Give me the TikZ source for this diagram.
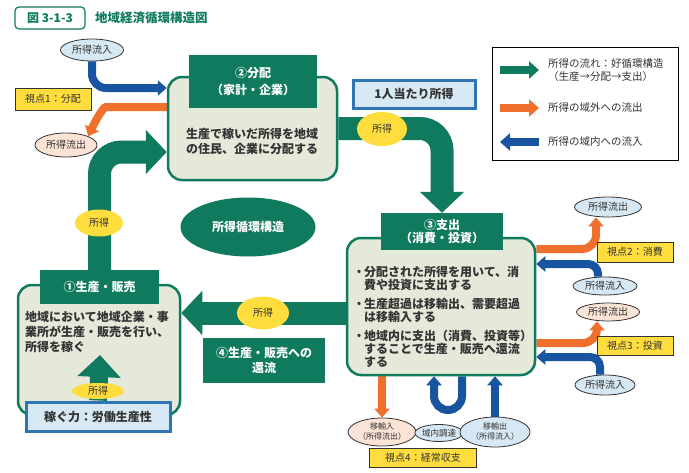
\documentclass[tikz,border=0pt]{standalone}
\usepackage{fontspec}
\setmainfont{Noto Sans CJK JP}
\usetikzlibrary{arrows.meta,shapes.geometric,backgrounds}
\definecolor{grn}{RGB}{16,122,94}
\definecolor{boxfill}{RGB}{228,233,217}
\definecolor{org}{RGB}{238,112,44}
\definecolor{blu}{RGB}{24,84,160}
\definecolor{ylw}{RGB}{255,221,62}
\definecolor{ltblue}{RGB}{214,232,243}
\definecolor{peach}{RGB}{251,227,214}
\definecolor{kpblue}{RGB}{46,117,182}
\definecolor{txt}{RGB}{51,51,51}
\newcommand\bul{\makebox[10pt][c]{・}}

\begin{document}
\begin{tikzpicture}
  [x=1pt,y=-1pt,
   every node/.style={inner sep=0pt,text=txt,font=\fontsize{12}{15}\selectfont},
   mainbox/.style={draw=grn,line width=2.5pt,fill=boxfill,rounded corners=14pt},
   hdr/.style={fill=grn,text=white,align=center},
   inc/.style={ellipse,fill=ylw,font=\fontsize{10}{12}\selectfont},
   bubin/.style={ellipse,draw=txt,line width=0.8pt,fill=ltblue,font=\fontsize{10}{12}\selectfont},
   bubout/.style={bubin,fill=peach},
   view/.style={draw=txt,line width=0.8pt,fill=ylw,font=\fontsize{10}{12}\selectfont},
   kpbox/.style={draw=kpblue,line width=3pt,fill=ltblue,font=\bfseries\fontsize{12}{15}\selectfont},
   flow/.style={grn,line width=23pt,rounded corners=22pt,-{Triangle[length=21pt,width=43pt]}},
   outflow/.style={org,line width=8pt,rounded corners=14pt,-{Triangle[length=9pt,width=15pt]}},
   inflow/.style={outflow,blu}]
  \useasboundingbox (0,0) rectangle (689,472);

  % title
  \node[draw=grn,line width=1.2pt,rounded corners=4pt,minimum width=70,minimum height=22,
        text=grn,font=\bfseries\fontsize{12}{14}\selectfont] (fig) at (50,18) {図 3-1-3};
  \node[anchor=west,text=grn,font=\bfseries\fontsize{12.5}{14}\selectfont] (ttl) at (95,18) {地域経済循環構造図};

  % three stages
  \node[mainbox,minimum width=169,minimum height=103] (boxB) at (252.5,128.5) {};
  \node[hdr,minimum width=128,minimum height=53,font=\bfseries\fontsize{12}{17}\selectfont] (hdrB) at (253,81.5) {②分配\\（家計・企業）};
  \node[align=left,font=\bfseries\fontsize{12}{15}\selectfont] (txtB) at (252,141) {生産で稼いだ所得を地域\\の住民、企業に分配する};

  \node[mainbox,minimum width=188,minimum height=137] (boxC) at (441,306.5) {};
  \node[hdr,minimum width=122,minimum height=37,font=\bfseries\fontsize{12}{13}\selectfont] (hdrC) at (442,231.5) {③支出\\（消費・投資）};
  \node[align=left,anchor=west,font=\bfseries\fontsize{12}{13}\selectfont] (txtC) at (354,317)
    {\bul 分配された所得を用いて、消\\\hspace*{10pt}費や投資に支出する\\[6pt]
     \bul 生産超過は移輸出、需要超過\\\hspace*{10pt}は移輸入する\\[6pt]
     \bul 地域内に支出（消費、投資等）\\\hspace*{10pt}することで生産・販売へ還流\\\hspace*{10pt}する};

  \node[mainbox,minimum width=162,minimum height=130] (boxA) at (99,350) {};
  \node[hdr,minimum width=119,minimum height=34,font=\bfseries\fontsize{12}{15}\selectfont] (hdrA) at (99.5,287) {①生産・販売};
  \node[align=left,anchor=west,font=\bfseries\fontsize{12}{15}\selectfont] (txtA) at (25,332) {地域において地域企業・事\\業所が生産・販売を行い、\\所得を稼ぐ};
  \node[kpbox,minimum width=144,minimum height=29] (kpwr) at (98,416.5) {稼ぐ力：労働生産性};
  \coordinate (upTip) at (100,355);
  \draw[grn,line width=18pt,-{Triangle[length=22pt,width=42pt]}] (kpwr.north) -- (upTip);
  \node[inc,minimum width=52,minimum height=16] (incK) at (98,391) {所得};

  % middle labels
  \node[kpbox,minimum width=122,minimum height=28] (percap) at (414,94) {1人当たり所得};
  \node[ellipse,fill=grn,text=white,minimum width=135,minimum height=59,
        font=\bfseries\fontsize{12}{15}\selectfont] (cyc) at (248,227) {所得循環構造};
  \node[hdr,minimum width=122,minimum height=45,font=\bfseries\fontsize{12}{15}\selectfont] (ret) at (264,360.5) {④生産・販売への\\還流};

  \node[inc,minimum width=48,minimum height=27] (incA) at (99,223) {所得};
  \node[inc,minimum width=50,minimum height=34] (incB) at (382,129) {所得};
  \node[inc,minimum width=52,minimum height=33] (incC) at (263,313) {所得};

  % bubbles and view points
  \node[bubin,minimum width=63,minimum height=22] (inB) at (92,50) {所得流入};
  \node[bubout,minimum width=62,minimum height=24] (outB) at (66,145) {所得流出};
  \node[view,minimum width=76,minimum height=22] (v1) at (53,99) {視点1：分配};
  \node[bubin,minimum width=67,minimum height=20] (outC1) at (608,207) {所得流出};
  \node[view,minimum width=76,minimum height=20] (v2) at (635,252) {視点2：消費};
  \node[bubin,minimum width=64,minimum height=18] (inC1) at (605,286) {所得流入};
  \node[bubout,minimum width=63,minimum height=18] (outC2) at (608,312) {所得流出};
  \node[view,minimum width=76,minimum height=19] (v3) at (635,346) {視点3：投資};
  \node[bubin,minimum width=60,minimum height=20] (inC2) at (605,385) {所得流入};
  \node[bubout,minimum width=64,minimum height=28,align=center,font=\fontsize{8}{10}\selectfont] (imp) at (382,432) {移輸入\\（所得流出）};
  \node[bubin,minimum width=45,minimum height=17,font=\fontsize{8.5}{10}\selectfont] (proc) at (439,433) {域内調達};
  \node[bubin,minimum width=70,minimum height=30,align=center,font=\fontsize{8}{10}\selectfont] (exp) at (495,432) {移輸出\\（所得流入）};
  \node[view,minimum width=107,minimum height=19] (v4) at (423,457.5) {視点4：経常収支};

  % legend
  \node[draw=black,line width=0.8pt,minimum width=186,minimum height=113] (lgd) at (585,103.5) {};
  \coordinate (lg1a) at (500,70);  \coordinate (lg1b) at (539,70);
  \coordinate (lg2a) at (500,108); \coordinate (lg2b) at (539,108);
  \coordinate (lg3a) at (539,142); \coordinate (lg3b) at (500,142);
  \draw[grn,line width=8pt,-{Triangle[length=10pt,width=17pt]}] (lg1a) -- (lg1b);
  \draw[org,line width=8pt,-{Triangle[length=10pt,width=17pt]}] (lg2a) -- (lg2b);
  \draw[blu,line width=8pt,-{Triangle[length=10pt,width=17pt]}] (lg3a) -- (lg3b);
  \node[anchor=west,align=left,font=\fontsize{10.5}{13}\selectfont] (lgt1) at (548,70) {所得の流れ：好循環構造\\（生産→分配→支出）};
  \node[anchor=west,font=\fontsize{10.5}{13}\selectfont] (lgt2) at (548,108) {所得の域外への流出};
  \node[anchor=west,font=\fontsize{10.5}{13}\selectfont] (lgt3) at (548,142) {所得の域内への流入};

  % connectors
  \begin{pgfonlayer}{background}
    \draw[flow] (hdrA.north) |- (boxB.west |- 0,152);
    \draw[flow] (boxB.east) -| (hdrC.north);
    \draw[flow] (boxC.west |- 0,313) -- (boxA.east |- 0,313);
    \draw[inflow] (inB.south) |- (boxB.west |- 0,88);
    \draw[outflow] (boxB.west |- 0,107) -- (120,107) to[out=180,in=65] (outB.north east);
    \draw[outflow] (boxC.east |- 0,249) -| ([xshift=-12pt]outC1.south);
    \draw[inflow,rounded corners=10pt] ([xshift=-7pt]inC1.north) |- (boxC.east |- 0,264);
    \draw[outflow] (boxC.east |- 0,343) -| ([xshift=-11pt]outC2.south);
    \draw[inflow,rounded corners=10pt] ([xshift=-5pt]inC2.north) |- (boxC.east |- 0,357);
    \draw[outflow] (boxC.south -| imp.north) -- (imp.north);
    \draw[inflow] (exp.north) -- (boxC.south -| exp.north);
    \draw[inflow] (boxC.south -| 462,0) -- (462,410) -- (434,410) -- (boxC.south -| 434,0);
  \end{pgfonlayer}
\end{tikzpicture}
\end{document}
